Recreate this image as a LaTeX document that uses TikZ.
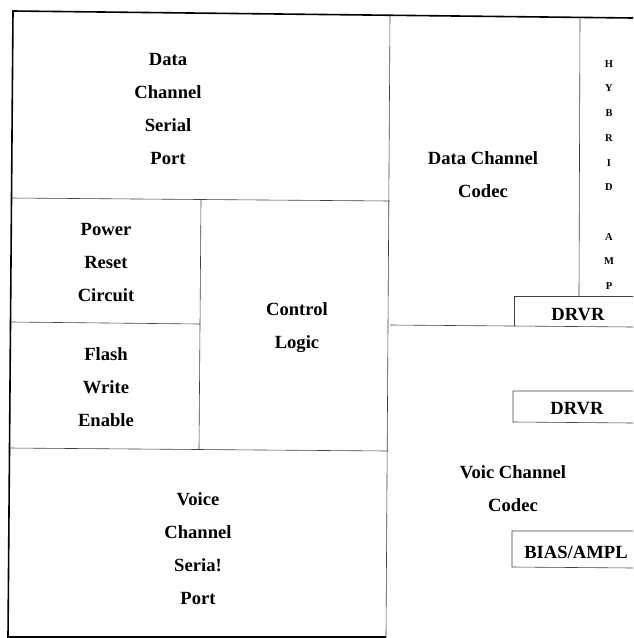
\documentclass[tikz,border=0pt]{standalone}
\usepackage{fontspec}
\setmainfont{Liberation Serif}
\begin{document}
\begin{tikzpicture}[x=1pt,y=-1pt,
  frame/.style={line width=1.6pt,black},
  part/.style={line width=0.6pt,black!75},
  lbl/.style={font=\bfseries\fontsize{18.6}{33}\selectfont,align=center,inner sep=0pt},
  small/.style={font=\bfseries\fontsize{10.5}{24.7}\selectfont,align=center,inner sep=0pt}]
\useasboundingbox (0,0) rectangle (633,638);
\fill[white] (0,0) rectangle (633,638);
% outer frame
\coordinate (tl) at (13,11);
\coordinate (tr) at (633,18);
\coordinate (bl) at (8,637);
\coordinate (bm) at (386,637);
\draw[frame] (tr) -- (tl) -- (bl) -- (bm);
% main vertical divider
\draw[part] (390,15) -- (bm);
% left column partitions
\draw[part] (11,198) -- (390,201);
\draw[part] (201,200) -- (199,450);
\draw[part] (11,322) -- (200,324);
\draw[part] (9,448) -- (388,451);
% right column partitions
\draw[part] (580,17) -- (579,296);
\draw[part] (390,325) -- (633,327);
\draw[part] (633,296) -- (514,296) -- (514,326);
\draw[part] (633,391) -- (513,391) -- (513,422) -- (633,423);
\draw[part] (633,531) -- (512,531) -- (512,567) -- (633,568);
% labels
\node[lbl] (dcsp) at (168,109) {Data\\Channel\\Serial\\Port};
\node[lbl] (dcc) at (483,174.5) {Data Channel\\Codec};
\node[small] (hyb) at (609,175) {H\\Y\\B\\R\\I\\D\\[24.7pt]A\\M\\P};
\node[lbl] (drvr1) at (578,315) {DRVR};
\node[lbl] (prc) at (106,263) {Power\\Reset\\Circuit};
\node[lbl] (fwe) at (106,387.5) {Flash\\Write\\Enable};
\node[lbl] (cl) at (297,327.5) {Control\\Logic};
\node[lbl] (drvr2) at (577,409) {DRVR};
\node[lbl] (vcc) at (513,488.5) {Voic Channel\\Codec};
\node[lbl] (bias) at (576,552) {BIAS/AMPL};
\node[lbl] (vcsp) at (198,548.5) {Voice\\Channel\\Seria!\\Port};
\end{tikzpicture}
\end{document}
